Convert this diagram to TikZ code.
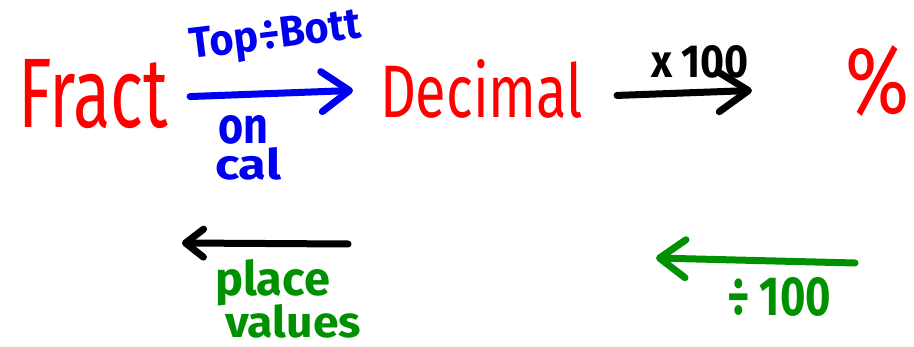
\documentclass[tikz,border=0pt]{standalone}
\usepackage{fontspec}
\setmainfont{Fira Sans}
\usetikzlibrary{arrows.meta}
\definecolor{inkred}{RGB}{255,0,0}
\definecolor{inkblue}{RGB}{0,0,240}
\definecolor{inkgreen}{RGB}{0,145,0}
% set a word into a box of the given width and height (pt)
\newcommand\inkword[3]{\resizebox{#1pt}{#2pt}{#3}}
\tikzset{
  word/.style={inner sep=0pt, outer sep=0pt, anchor=base west},
  note/.style={word, font=\bfseries},
  pen/.style={line width=7pt, line cap=round, line join=round},
  barb/.style={-{Straight Barb[length=#1pt, width=40pt, round]}},
}
\begin{document}
\begin{tikzpicture}[x=1pt, y=-1pt]
  \useasboundingbox[fill=white] (0,0) rectangle (914,347);

  % main chain: fraction -> decimal -> percent
  \node[word, text=inkred] (fract) at (18,128) {\inkword{150}{68}{Fract}};
  \node[word, text=inkred] (decimal) at (380,118) {\inkword{203}{58}{Decimal}};
  \node[word, text=inkred] (pct) at (845,114) {\inkword{64}{68}{\%}};

  % fraction to decimal (canvas shifts: negative yshift moves down)
  \draw[pen, draw=inkblue, barb=28]
    ([xshift=22pt, yshift=-2pt]fract.east) -- ([xshift=-27pt, yshift=-1pt]decimal.west);
  \node[text=inkblue, font=\bfseries, inner sep=0pt, rotate=7] (topbott) at (276,38) {\inkword{172}{30}{Top÷Bott}};
  \node[note, text=inkblue] (on) at (218,144) {\inkword{50}{28}{on}};
  \node[note, text=inkblue] (cal) at (215,180) {\inkword{66}{32}{cal}};

  % decimal to percent
  \draw[pen, draw=black, barb=30]
    ([xshift=34pt, yshift=-6pt]decimal.east) -- ([xshift=-93pt, yshift=-9pt]pct.west);
  \node[note, text=black] (times) at (651,78) {\inkword{98}{32}{x 100}};

  % decimal back to fraction
  \coordinate (pv-from) at (348,244);
  \coordinate (pv-to) at (182,243);
  \draw[pen, draw=black, -{Straight Barb[length=18pt, width=28pt, round]}] (pv-from) -- (pv-to);
  \node[note, text=inkgreen] (place) at (215,296) {\inkword{115}{36}{place}};
  \node[note, text=inkgreen] (values) at (225,338) {\inkword{136}{33}{values}};

  % percent back to decimal
  \coordinate (dv-from) at (855,263);
  \coordinate (dv-to) at (656,258);
  \draw[pen, draw=inkgreen, -{Straight Barb[length=26pt, width=38pt, round]}] (dv-from) -- (dv-to);
  \node[note, text=inkgreen] (div) at (727,316) {\inkword{104}{38}{÷ 100}};
\end{tikzpicture}
\end{document}
